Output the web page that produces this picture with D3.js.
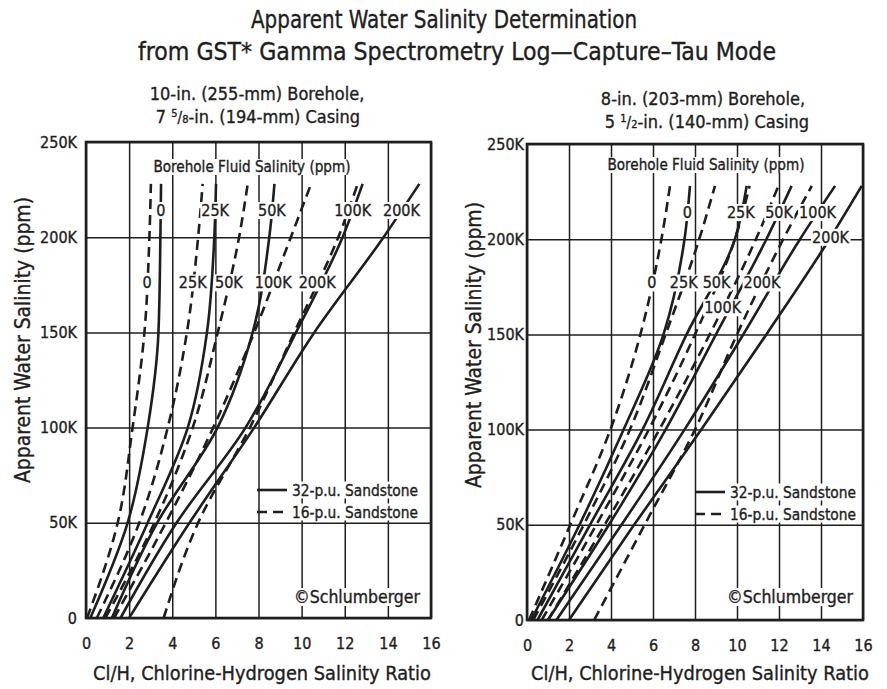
<!DOCTYPE html>
<html><head><meta charset="utf-8">
<script src="https://cdn.jsdelivr.net/npm/d3@7"></script>
<style>
body{margin:0;background:#fff}
text{font-family:"Liberation Sans Narrow","DejaVu Sans Condensed","Arial Narrow",sans-serif;fill:#1e1e1e;stroke:#1e1e1e;stroke-width:0.35px}
</style>
</head><body>
<svg id="chart" width="887" height="689"></svg>
<script>
// ---------- data ----------
const xTicks = [0, 2, 4, 6, 8, 10, 12, 14, 16];
const yTicks = [0, 50000, 100000, 150000, 200000, 250000];
const yTickLabels = ["0", "50K", "100K", "150K", "200K", "250K"];
// apparent water salinity levels at which Cl/H was read for each curve
const salinityLevels = [0, 50000, 100000, 150000, 200000, 228000];
const fluidSalinityLabels = ["0", "25K", "50K", "100K", "200K"];

// Left chart: 10-in. borehole, 7 5/8-in. casing (Cl/H at each salinity level)
const left32pu = [
  [0.2, 1.93, 2.86, 3.36, 3.45, 3.48],
  [0.8, 2.86, 4.72, 5.61, 5.95, 6.03],
  [1.2, 3.3, 6.1, 7.73, 8.5, 8.74],
  [1.6, 4.2, 7.4, 9.74, 11.9, 12.83],
  [2.0, 4.8, 7.8, 10.59, 13.8, 15.46]
];
const left16pu = [
  [0.05, 1.47, 2.16, 2.71, 2.94, 3.01],
  [0.5, 2.47, 3.79, 4.68, 5.2, 5.41],
  [0.9, 3.17, 4.95, 6.11, 7.1, 7.5],
  [1.3, 3.7, 5.9, 7.8, 9.5, 10.44],
  [3.6, 5.2, 7.6, 9.66, 11.7, 12.6]
];
// Right chart: 8-in. borehole, 5 1/2-in. casing
const right32pu = [
  [0.2, 2.5, 4.6, 6.5, 7.5, 7.76],
  [0.5, 3.0, 5.5, 7.6, 9.9, 10.46],
  [1.0, 3.9, 6.6, 9.0, 11.4, 12.6],
  [1.4, 4.5, 7.5, 10.3, 13.0, 14.67],
  [2.0, 5.1, 8.3, 11.4, 14.4, 15.94]
];
const right16pu = [
  [0.1, 2.06, 3.97, 5.4, 6.4, 6.81],
  [0.3, 2.7, 4.9, 6.6, 8.2, 8.95],
  [0.7, 3.3, 5.8, 8.0, 9.9, 10.6],
  [1.0, 3.7, 6.3, 8.7, 10.9, 11.97],
  [3.2, 5.6, 8.0, 10.0, 12.2, 13.56]
];
// salinity level at which each curve carries its label
const leftLabelLevels32 = [214000, 214000, 214000, 214000, 214000];
const leftLabelLevels16 = [176000, 176000, 176000, 176000, 176000];
const rightLabelLevels32 = [214000, 214000, 214000, 214000, 201000];
const rightLabelLevels16 = [177000, 177000, 177000, 164000, 177000];

// ---------- layout ----------
const svg = d3.select("#chart");
svg.append("rect").attr("width", 887).attr("height", 689).attr("fill", "#fff");
const INK = "#1e1e1e";

const panels = [
  {x0: 86, x1: 431, yTop: 142, yBottom: 618, tickGap: 9,
   s32: left32pu, s16: left16pu, l32: leftLabelLevels32, l16: leftLabelLevels16,
   sub1: {x: 257, y: 100}, sub2: {x: 258, y: 123}, sub: ["10-in. (255-mm) Borehole,", "7", "5", "8", "-in. (194-mm) Casing"],
   yTitle: {x: 22, y: 340}, xTitle: {x: 262, y: 680},
   fluid: {x: 252, y: 172}, legend: {x: 257, y: 490}, copy: {x: 420, y: 603}},
  {x0: 527, x1: 863, yTop: 144, yBottom: 620, tickGap: 3,
   s32: right32pu, s16: right16pu, l32: rightLabelLevels32, l16: rightLabelLevels16,
   sub1: {x: 703, y: 105}, sub2: {x: 707, y: 128}, sub: ["8-in. (203-mm) Borehole,", "5", "1", "2", "-in. (140-mm) Casing"],
   yTitle: {x: 473, y: 345}, xTitle: {x: 700, y: 680},
   fluid: {x: 706, y: 170}, legend: {x: 695, y: 492}, copy: {x: 853, y: 603}}
];

function labelWithBg(g, x, y, txt, size, anchor, pad, len) {
  const t = g.append("text").attr("x", x).attr("y", y)
    .attr("font-size", size).attr("text-anchor", anchor || "middle")
    .attr("dominant-baseline", "central").text(txt);
  if (len) t.attr("textLength", len).attr("lengthAdjust", "spacingAndGlyphs");
  const b = t.node().getBBox();
  const p = pad == null ? 1 : pad;
  g.insert("rect", () => t.node())
    .attr("x", b.x - p).attr("y", b.y + 1).attr("width", b.width + 2 * p).attr("height", b.height - 2)
    .attr("fill", "#fff");
  return t;
}

function interpX(series, level) {
  for (let i = 1; i < salinityLevels.length; i++) {
    if (level <= salinityLevels[i]) {
      const f = (level - salinityLevels[i - 1]) / (salinityLevels[i] - salinityLevels[i - 1]);
      return series[i - 1] + f * (series[i] - series[i - 1]);
    }
  }
  return series[series.length - 1];
}

// ---------- titles ----------
svg.append("text").attr("x", 444).attr("y", 28).attr("text-anchor", "middle")
  .attr("font-size", 25).attr("textLength", 386).attr("lengthAdjust", "spacingAndGlyphs")
  .text("Apparent Water Salinity Determination");
svg.append("text").attr("x", 457).attr("y", 60).attr("text-anchor", "middle")
  .attr("font-size", 25).attr("textLength", 638).attr("lengthAdjust", "spacingAndGlyphs")
  .text("from GST* Gamma Spectrometry Log\u2014Capture\u2013Tau Mode");

panels.forEach(P => {
  const x = d3.scaleLinear().domain([0, 16]).range([P.x0, P.x1]);
  const y = d3.scaleLinear().domain([0, 250000]).range([P.yBottom, P.yTop]);
  const g = svg.append("g");

  // grid
  g.append("g").call(d3.axisBottom(x).tickValues(xTicks).tickSize(-(P.yBottom - P.yTop)).tickFormat(""))
    .attr("transform", `translate(0,${P.yBottom})`)
    .call(a => a.select(".domain").remove())
    .call(a => a.selectAll("line").attr("stroke", INK).attr("stroke-width", 1.5));
  g.append("g").call(d3.axisLeft(y).tickValues(yTicks).tickSize(-(P.x1 - P.x0)).tickFormat(""))
    .attr("transform", `translate(${P.x0},0)`)
    .call(a => a.select(".domain").remove())
    .call(a => a.selectAll("line").attr("stroke", INK).attr("stroke-width", 1.5));

  // tick labels
  g.append("g").attr("transform", `translate(0,${P.yBottom})`)
    .call(d3.axisBottom(x).tickValues(xTicks).tickSize(0).tickPadding(20).tickFormat(d3.format("d")))
    .call(a => a.select(".domain").remove())
    .call(a => a.selectAll("text").attr("font-size", 16).attr("fill", INK)
      .attr("font-family", '"Liberation Sans Narrow","DejaVu Sans Condensed",sans-serif'));
  g.append("g").attr("transform", `translate(${P.x0},0)`)
    .call(d3.axisLeft(y).tickValues(yTicks).tickSize(0).tickPadding(P.tickGap).tickFormat((d, i) => yTickLabels[i]))
    .call(a => a.select(".domain").remove())
    .call(a => a.selectAll("text").attr("font-size", 16).attr("fill", INK)
      .attr("font-family", '"Liberation Sans Narrow","DejaVu Sans Condensed",sans-serif'));

  // "Borehole Fluid Salinity (ppm)"
  labelWithBg(g, P.fluid.x, P.fluid.y - 5, "Borehole Fluid Salinity (ppm)", 15.5, "middle", 2, 197);

  // curves
  const line = d3.line().x(d => x(d[0])).y(d => y(d[1])).curve(d3.curveMonotoneY);
  const curves = g.append("g").attr("fill", "none").attr("stroke", INK).attr("stroke-width", 2.6);
  P.s16.forEach(s => curves.append("path")
    .attr("d", line(s.map((v, i) => [v, salinityLevels[i]])))
    .attr("stroke-dasharray", "10,6"));
  P.s32.forEach(s => curves.append("path")
    .attr("d", line(s.map((v, i) => [v, salinityLevels[i]]))));

  // curve labels
  const lg = g.append("g");
  P.s32.forEach((s, i) => labelWithBg(lg, x(interpX(s, P.l32[i])), y(P.l32[i]), fluidSalinityLabels[i], 16, "middle", 1));
  P.s16.forEach((s, i) => labelWithBg(lg, x(interpX(s, P.l16[i])), y(P.l16[i]), fluidSalinityLabels[i], 16, "middle", 1));

  // legend
  const L = P.legend;
  g.append("line").attr("x1", L.x).attr("x2", L.x + 30).attr("y1", L.y).attr("y2", L.y)
    .attr("stroke", INK).attr("stroke-width", 2.6);
  g.append("line").attr("x1", L.x).attr("x2", L.x + 30).attr("y1", L.y + 22).attr("y2", L.y + 22)
    .attr("stroke", INK).attr("stroke-width", 2.6).attr("stroke-dasharray", "10,6");
  labelWithBg(g, L.x + 35, L.y, "32-p.u. Sandstone", 16, "start", 2, 126);
  labelWithBg(g, L.x + 35, L.y + 22, "16-p.u. Sandstone", 16, "start", 2, 126);

  // copyright
  labelWithBg(g, P.copy.x, P.copy.y - 6, "\u00A9Schlumberger", 17, "end", 3, 126);

  // frame
  g.append("rect").attr("x", P.x0).attr("y", P.yTop).attr("width", P.x1 - P.x0).attr("height", P.yBottom - P.yTop)
    .attr("fill", "none").attr("stroke", INK).attr("stroke-width", 2.6);

  // subtitles
  svg.append("text").attr("x", P.sub1.x).attr("y", P.sub1.y).attr("text-anchor", "middle")
    .attr("font-size", 18).text(P.sub[0]);
  const t2 = svg.append("text").attr("x", P.sub2.x).attr("y", P.sub2.y).attr("text-anchor", "middle").attr("font-size", 18);
  t2.append("tspan").text(P.sub[1] + " ");
  t2.append("tspan").attr("font-size", 11).attr("dy", -6).text(P.sub[2]);
  t2.append("tspan").attr("font-size", 15).attr("dy", 6).text("/");
  t2.append("tspan").attr("font-size", 11).attr("dy", 0).text(P.sub[3]);
  t2.append("tspan").attr("dy", 0).text(P.sub[4]);

  // axis titles
  svg.append("text").attr("transform", `translate(${P.yTitle.x},${P.yTitle.y}) rotate(-90)`)
    .attr("text-anchor", "middle").attr("dominant-baseline", "central").attr("font-size", 22)
    .attr("textLength", 286).attr("lengthAdjust", "spacingAndGlyphs")
    .text("Apparent Water Salinity (ppm)");
  svg.append("text").attr("x", P.xTitle.x).attr("y", P.xTitle.y).attr("text-anchor", "middle")
    .attr("font-size", 19.8)
    .text("Cl/H, Chlorine-Hydrogen Salinity Ratio");
});
</script>
</body></html>
